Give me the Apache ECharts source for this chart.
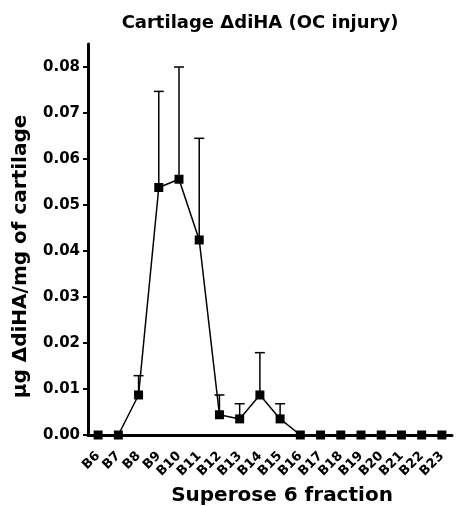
<!DOCTYPE html>
<html>
<head>
<meta charset="utf-8">
<script src="https://cdn.jsdelivr.net/npm/echarts@6/dist/echarts.min.js"></script>
<style>
  html, body { margin: 0; padding: 0; background: #fff; }
  #chart { width: 456px; height: 506px; }
</style>
</head>
<body>
<div id="chart"></div>
<script>
// fractions on the x axis
var fractions = ["B6", "B7", "B8", "B9", "B10", "B11", "B12", "B13", "B14", "B15",
    "B16", "B17", "B18", "B19", "B20", "B21", "B22", "B23"];
// mean values
var means = [0, 0, 0.0087, 0.0538, 0.0556, 0.0424, 0.0044, 0.0035, 0.0087, 0.0035,
    0, 0, 0, 0, 0, 0, 0, 0];
// upper end of the error bars (null = no bar)
var upper = [null, null, 0.0129, 0.0747, 0.0800, 0.0645, 0.0087, 0.0068, 0.0179, 0.0068,
    null, null, null, null, null, null, null, null];
// y tick labels
var yTicks = [0, 0.01, 0.02, 0.03, 0.04, 0.05, 0.06, 0.07, 0.08];

window.addEventListener("load", function () {
    var myChart = echarts.init(document.getElementById("chart"));
    var font = "DejaVu Sans, sans-serif";

    var errData = [];
    for (var i = 0; i < fractions.length; i++) {
        if (upper[i] != null) {
            errData.push([i, means[i], upper[i]]);
        }
    }

    var option = {
        animation: false,
        title: {
            text: "Cartilage \u0394diHA (OC injury)",
            left: 255,
            textAlign: "center",
            top: 9,
            textStyle: { fontFamily: font, fontSize: 18, fontWeight: "bold", color: "#000" }
        },
        grid: { left: 88, right: 4, top: 44, bottom: 71, outerBoundsMode: "none", containLabel: false },
        xAxis: {
            type: "category",
            data: fractions,
            boundaryGap: true,
            name: "Superose 6 fraction",
            nameLocation: "middle",
            nameGap: 47,
            nameTextStyle: {
                fontFamily: font, fontSize: 20, fontWeight: "bold", color: "#000",
                padding: [0, 0, 0, 24]
            },
            axisLine: { lineStyle: { color: "#000", width: 3 } },
            axisTick: { alignWithLabel: true, length: 5, lineStyle: { color: "#000", width: 2 } },
            axisLabel: {
                interval: 0,
                rotate: 45,
                margin: 19,
                fontFamily: font,
                fontSize: 13,
                fontWeight: "bold",
                color: "#000"
            }
        },
        yAxis: {
            type: "value",
            min: 0,
            max: 0.085,
            name: "\u03bcg \u0394diHA/mg of cartilage",
            nameLocation: "middle",
            nameGap: 57,
            nameTextStyle: {
                fontFamily: font, fontSize: 20, fontWeight: "bold", color: "#000",
                padding: [0, 34, 0, 0]
            },
            splitLine: { show: false },
            axisLine: { show: true, lineStyle: { color: "#000", width: 3 } },
            axisTick: {
                show: true,
                length: 5,
                customValues: yTicks,
                lineStyle: { color: "#000", width: 2 }
            },
            axisLabel: {
                customValues: yTicks,
                margin: 8,
                fontFamily: font,
                fontSize: 15,
                fontWeight: "bold",
                color: "#000",
                formatter: function (v) { return v.toFixed(2); }
            }
        },
        series: [
            {
                type: "custom",
                data: errData,
                z: 1,
                renderItem: function (params, api) {
                    var x = api.value(0);
                    var lo = api.coord([x, api.value(1)]);
                    var hi = api.coord([x, api.value(2)]);
                    var half = 5;
                    return {
                        type: "group",
                        children: [
                            {
                                type: "line",
                                shape: { x1: lo[0], y1: lo[1], x2: hi[0], y2: hi[1] },
                                style: { stroke: "#000", lineWidth: 1.5 }
                            },
                            {
                                type: "line",
                                shape: { x1: hi[0] - half, y1: hi[1], x2: hi[0] + half, y2: hi[1] },
                                style: { stroke: "#000", lineWidth: 1.5 }
                            }
                        ]
                    };
                }
            },
            {
                type: "line",
                data: means,
                z: 3,
                symbol: "rect",
                symbolSize: 9,
                itemStyle: { color: "#000" },
                lineStyle: { color: "#000", width: 1.5 }
            }
        ]
    };
    myChart.setOption(option);
});
</script>
</body>
</html>
